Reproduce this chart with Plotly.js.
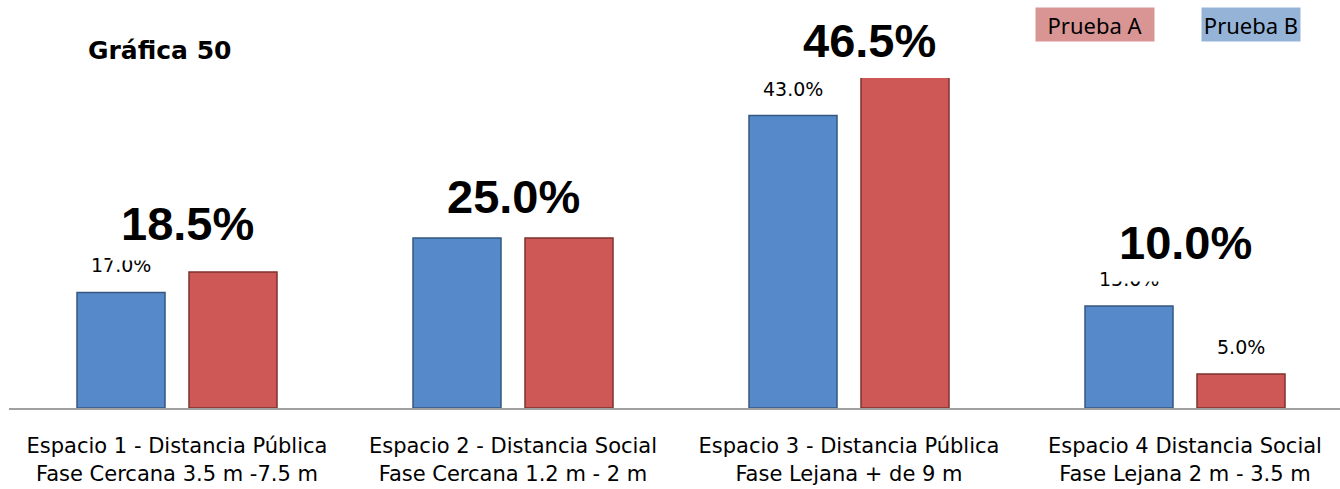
<!DOCTYPE html>
<html>
<head>
<meta charset="utf-8">
<script src="https://cdn.plot.ly/plotly-3.0.1.min.js"></script>
<style>html,body{margin:0;padding:0;background:#fff;}#chart{width:1340px;height:489px;}</style>
</head>
<body>
<div id="chart"></div>
<script>
// ---- data ----
const categories = [
  "Espacio 1 - Distancia Pública<br>Fase Cercana 3.5 m -7.5 m",
  "Espacio 2 - Distancia Social<br>Fase Cercana 1.2 m - 2 m",
  "Espacio 3 - Distancia Pública<br>Fase Lejana + de 9 m",
  "Espacio 4 Distancia Social<br>Fase Lejana 2 m - 3.5 m"
];
const seriesNames = ["Prueba B", "Prueba A"];
const pruebaB = [17.0, 25.0, 43.0, 15.0];   // blue bars
const pruebaA = [20.0, 25.0, 50.0, 5.0];    // red bars (as drawn; 3rd clipped at top)
const bigLabels = ["18.5%", "25.0%", "46.5%", "10.0%"];
const smallLabelsB = ["17.0%", null, "43.0%", "15.0%"];
const smallLabelsA = [null, null, null, "5.0%"];
const titleText = "Gráfica 50";

// ---- styles ----
const blue = "#5689c9", red = "#cd5856";

const traces = [
  {type: "bar", name: seriesNames[0], x: categories, y: pruebaB,
   marker: {color: blue, line: {color: "#34577f", width: 1.5}}, hoverinfo: "y"},
  {type: "bar", name: seriesNames[1], x: categories, y: pruebaA,
   marker: {color: red, line: {color: "#7e3231", width: 1.5}}, hoverinfo: "y"}
];

const annotations = [];
// small value labels (above the bars)
smallLabelsB.forEach((t, i) => {
  if (!t) return;
  annotations.push({xref: "x", yref: "y", x: i - 1/6, y: pruebaB[i], text: t, showarrow: false,
    yanchor: "middle", yshift: 27, font: {family: "DejaVu Sans", size: 19, color: "#000"}});
});
smallLabelsA.forEach((t, i) => {
  if (!t) return;
  annotations.push({xref: "x", yref: "y", x: i + 1/6, y: pruebaA[i], text: t, showarrow: false,
    yanchor: "middle", yshift: 27, font: {family: "DejaVu Sans", size: 19, color: "#000"}});
});
// big labels (white box hides what lies under)
const bigX = [0.03, 1.0, 2.06, 3.0];
const bigY = [0.559, 0.6406, 1.1136, 0.5015];
const bigPad = [10, 7, 2, 12];
const bigBg = ["#ffffff", "#ffffff", "rgba(0,0,0,0)", "#ffffff"];
bigLabels.forEach((t, i) => {
  annotations.push({xref: "x", yref: "paper", x: bigX[i], y: bigY[i], text: "<b>" + t + "</b>",
    showarrow: false, yanchor: "middle", bgcolor: bigBg[i], borderpad: bigPad[i],
    font: {family: "Liberation Sans", size: 47, color: "#000"}});
});
// legend boxes
annotations.push({xref: "paper", yref: "paper", x: 0.8159, y: 1.162, text: seriesNames[1],
  showarrow: false, xanchor: "center", yanchor: "middle", width: 118, height: 33, borderpad: 0,
  bgcolor: "#d99594", font: {family: "Noto Sans", size: 22, color: "#000"}});
annotations.push({xref: "paper", yref: "paper", x: 0.9331, y: 1.162, text: seriesNames[0],
  showarrow: false, xanchor: "center", yanchor: "middle", width: 98, height: 33, borderpad: 0,
  bgcolor: "#95b3d7", font: {family: "Noto Sans", size: 22, color: "#000"}});

const layout = {
  width: 1340, height: 489,
  margin: {l: 9, r: 0, t: 78, b: 81, pad: 0},
  paper_bgcolor: "#ffffff", plot_bgcolor: "#ffffff",
  showlegend: false,
  barmode: "group", bargap: 0.3333, bargroupgap: 0.2143,
  title: {text: "<b>" + titleText + "</b>", x: 88/1340, xref: "container", xanchor: "left",
          y: 1 - 50/489, yref: "container", yanchor: "middle",
          font: {family: "DejaVu Sans", size: 25, color: "#000"}},
  xaxis: {type: "category", range: [-0.5, 3.4613], showline: true, linecolor: "#a0a0a0", linewidth: 2,
          ticks: "", showgrid: false, zeroline: false, ticklabelstandoff: 18,
          tickfont: {family: "DejaVu Sans", size: 21, color: "#000"}, fixedrange: true},
  yaxis: {range: [0, 48.53], visible: false, showgrid: false, zeroline: false, fixedrange: true},
  annotations: annotations
};

Plotly.newPlot("chart", traces, layout, {displayModeBar: false, staticPlot: true});
</script>
</body>
</html>
